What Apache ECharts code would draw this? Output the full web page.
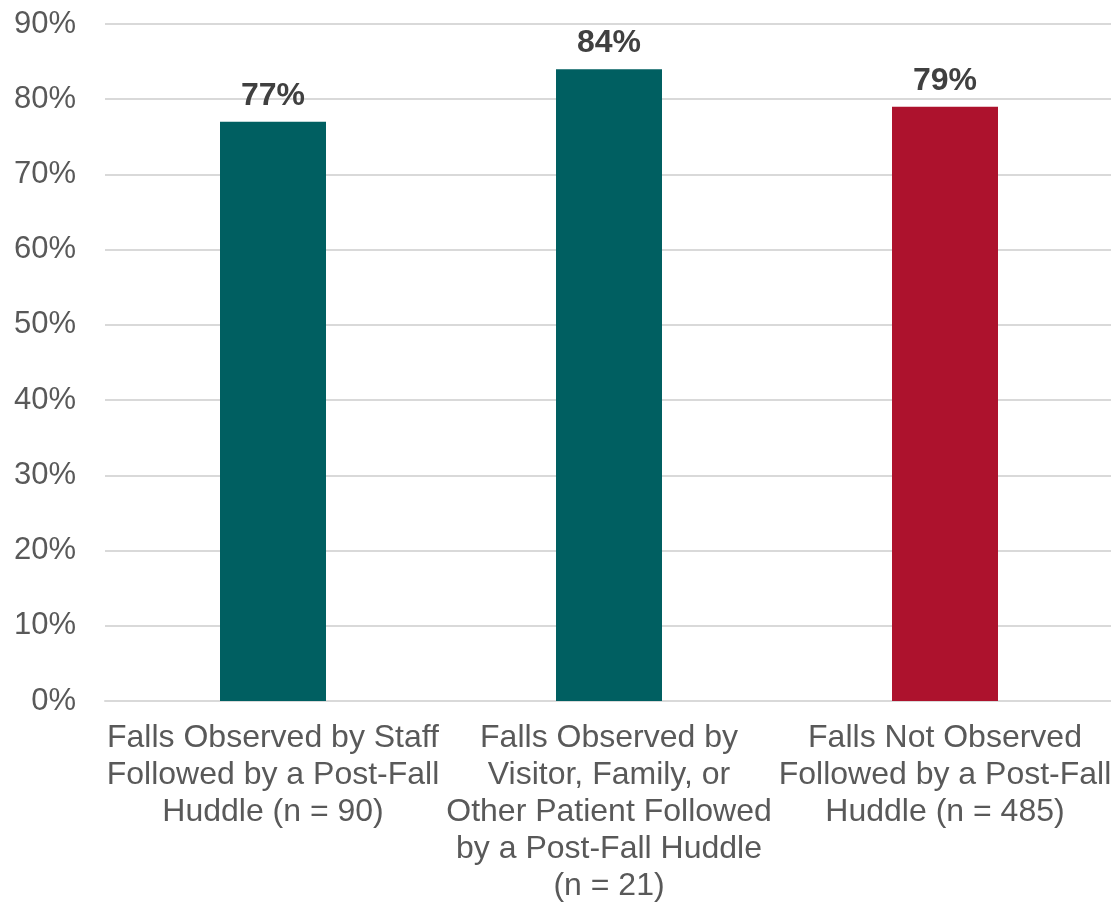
<!DOCTYPE html>
<html>
<head>
<meta charset="utf-8">
<script src="https://cdn.jsdelivr.net/npm/echarts@6/dist/echarts.min.js"></script>
<style>
  html, body { margin: 0; padding: 0; background: #ffffff; }
  #chart { width: 1111px; height: 903px; }
</style>
</head>
<body>
<div id="chart"></div>
<script>
// Share of falls followed by a post-fall huddle, by who observed the fall
const categories = [
  'Falls Observed by Staff\nFollowed by a Post-Fall\nHuddle (n = 90)',
  'Falls Observed by\nVisitor, Family, or\nOther Patient Followed\nby a Post-Fall Huddle\n(n = 21)',
  'Falls Not Observed\nFollowed by a Post-Fall\nHuddle (n = 485)'
];
const percentValues = [77, 84, 79];
const barColors = ['#005F61', '#005F61', '#AD122D'];

const chart = echarts.init(document.getElementById('chart'));
chart.setOption({
  animation: false,
  grid: {
    left: 105, right: -2, top: 24, bottom: 202,
    containLabel: false,
    outerBoundsMode: 'none'
  },
  xAxis: {
    type: 'category',
    data: categories,
    axisTick: { show: false },
    axisLine: { lineStyle: { color: '#D9D9D9', width: 2 } },
    axisLabel: {
      color: '#595959',
      fontFamily: 'Liberation Sans, Arial, sans-serif',
      fontSize: 32,
      lineHeight: 37,
      margin: 19,
      interval: 0
    }
  },
  yAxis: {
    type: 'value',
    min: 0,
    max: 90,
    interval: 10,
    axisLine: { show: false },
    axisTick: { show: false },
    splitLine: { lineStyle: { color: '#D9D9D9', width: 2 } },
    axisLabel: {
      color: '#595959',
      fontFamily: 'Liberation Sans, Arial, sans-serif',
      fontSize: 31,
      margin: 29,
      formatter: '{value}%'
    }
  },
  series: [{
    type: 'bar',
    barWidth: 106,
    data: percentValues.map((v, i) => ({ value: v, itemStyle: { color: barColors[i] } })),
    label: {
      show: true,
      position: 'top',
      distance: 10,
      color: '#404040',
      fontWeight: 'bold',
      fontFamily: 'Liberation Sans, Arial, sans-serif',
      fontSize: 32,
      formatter: '{c}%'
    }
  }]
});
</script>
</body>
</html>
